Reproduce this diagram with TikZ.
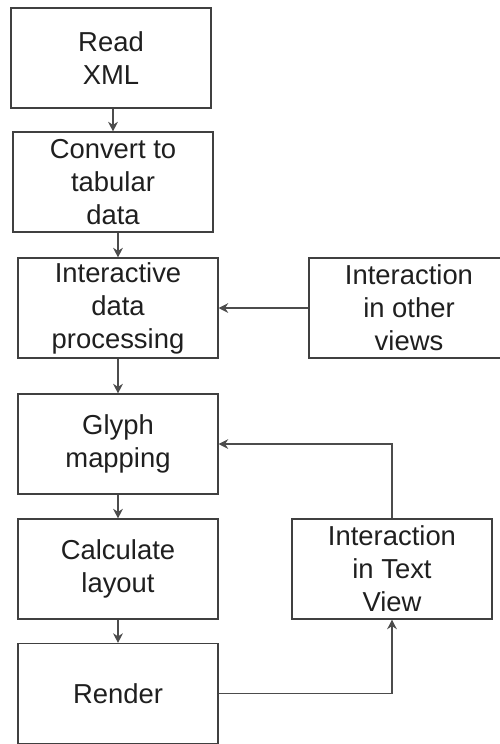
\documentclass[tikz,border=0pt]{standalone}
\usepackage{fontspec}
\setmainfont{Liberation Sans}
\usepackage{tikz}
\usetikzlibrary{arrows.meta, positioning}

\begin{document}
\begin{tikzpicture}[
  stage/.style={draw=black!75, line width=0.6pt, minimum width=4cm, minimum height=2cm, inner sep=0pt,
    align=center, text=black!88, font=\fontsize{15.6}{18.8}\selectfont},
  flow/.style={->, draw=black!70, line width=0.6pt},
  >={Stealth[length=5.5pt, width=5.5pt]}
]
  \clip (0, 0) rectangle (10, -14.88);

  % Main pipeline
  \node[stage] (read) at (2.22, -1.16) {Read\\XML};
  \node[stage] (convert) at (2.26, -3.64) {Convert to\\tabular\\data};
  \node[stage] (proc) at (2.36, -6.16) {Interactive\\data\\processing};
  \node[stage] (glyph) at (2.36, -8.88) {Glyph\\mapping};
  \node[stage] (layout) at (2.36, -11.38) {Calculate\\layout};
  \node[stage] (render) at (2.36, -13.87) {Render};

  % Interaction sources
  \node[stage] (otherviews) at (8.18, -6.16) {Interaction\\in other\\views};
  \node[stage] (textview) at (7.84, -11.38) {Interaction\\in Text\\View};

  \draw[flow] (read.south -| convert.north) -- (convert);
  \draw[flow] (convert.south -| proc.north) -- (proc);
  \draw[flow] (proc) -- (glyph);
  \draw[flow] (glyph) -- (layout);
  \draw[flow] (layout) -- (render);

  % Feedback loops
  \draw[flow] (otherviews) -- (proc);
  \draw[flow] (render) -| (textview);
  \draw[flow] (textview) |- (glyph);

\end{tikzpicture}
\end{document}
